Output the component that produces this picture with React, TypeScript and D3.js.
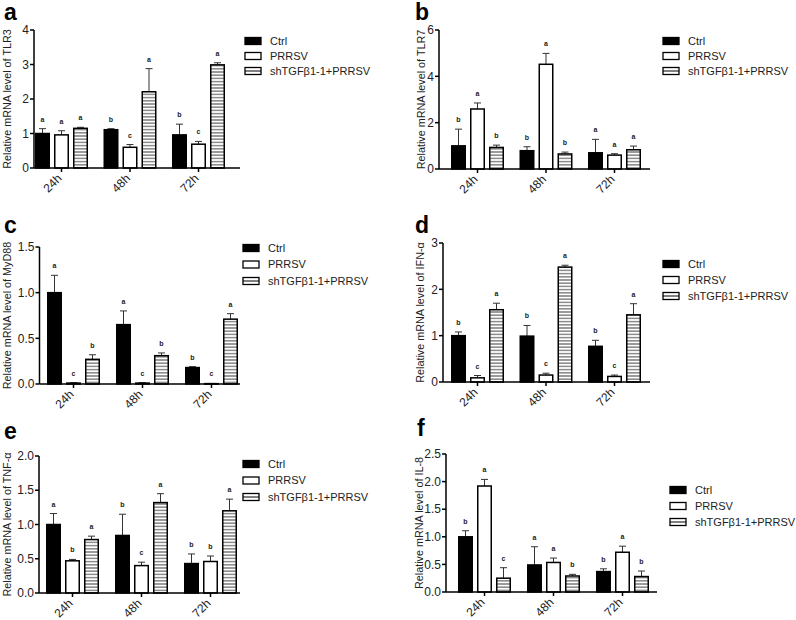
import React from "react";
import * as d3 from "d3";

const groups = ["24h", "48h", "72h"];
const series = ["Ctrl", "PRRSV", "shTGFβ1-1+PRRSV"];

// values per group (rows) x series (cols)
const tlr3Mean = [[1.0, 0.96, 1.15], [1.11, 0.6, 2.21], [0.96, 0.69, 2.99]];
const tlr3Err = [[0.14, 0.12, 0.03], [0.03, 0.08, 0.67], [0.31, 0.08, 0.06]];
const tlr3Sig = [["a", "a", "a"], ["b", "c", "a"], ["b", "c", "a"]];

const tlr7Mean = [[1.0, 2.59, 0.93], [0.79, 4.52, 0.65], [0.7, 0.6, 0.83]];
const tlr7Err = [[0.72, 0.26, 0.1], [0.17, 0.47, 0.08], [0.58, 0.06, 0.16]];
const tlr7Sig = [["b", "a", "b"], ["b", "a", "b"], ["a", "a", "a"]];

const myd88Mean = [[1.0, 0.01, 0.27], [0.65, 0.01, 0.31], [0.18, 0.004, 0.71]];
const myd88Err = [[0.19, 0.005, 0.05], [0.15, 0.005, 0.03], [0.01, 0.002, 0.06]];
const myd88Sig = [["a", "c", "b"], ["a", "c", "b"], ["b", "c", "a"]];

const ifnMean = [[1.0, 0.09, 1.56], [0.99, 0.15, 2.48], [0.77, 0.12, 1.45]];
const ifnErr = [[0.08, 0.05, 0.14], [0.23, 0.04, 0.04], [0.13, 0.03, 0.24]];
const ifnSig = [["b", "c", "a"], ["b", "c", "a"], ["b", "c", "a"]];

const tnfMean = [[1.0, 0.47, 0.78], [0.84, 0.4, 1.32], [0.43, 0.46, 1.2]];
const tnfErr = [[0.16, 0.02, 0.05], [0.31, 0.05, 0.13], [0.14, 0.08, 0.17]];
const tnfSig = [["a", "b", "a"], ["b", "c", "a"], ["b", "b", "a"]];

const il8Mean = [[1.0, 1.92, 0.25], [0.49, 0.535, 0.29], [0.37, 0.72, 0.28]];
const il8Err = [[0.11, 0.12, 0.19], [0.33, 0.08, 0.03], [0.05, 0.11, 0.1]];
const il8Sig = [["b", "a", "c"], ["a", "a", "b"], ["b", "a", "b"]];

const FONT = "'Liberation Sans', Arial, Helvetica, sans-serif";

type PanelSpec = {
  letter: string;
  letterX: number;
  letterY: number;
  label: string;
  labelX: number;
  axisX: number;
  axisEnd: number;
  yTop: number;
  yBot: number;
  yMax: number;
  yStep: number;
  decimals: number;
  c0: number;
  c2: number;
  legX: number;
  legY: number;
  legGap: number;
  mean: number[][];
  err: number[][];
  sig: string[][];
};

const panels: PanelSpec[] = [
  { letter: "a", letterX: 4, letterY: 20, label: "Relative mRNA level of TLR3", labelX: 10.5, axisX: 34, axisEnd: 240, yTop: 30, yBot: 168, yMax: 4, yStep: 1, decimals: 0, c0: 61.5, c2: 198.5, legX: 245, legY: 41, legGap: 15, mean: tlr3Mean, err: tlr3Err, sig: tlr3Sig },
  { letter: "b", letterX: 415, letterY: 20, label: "Relative mRNA level of TLR7", labelX: 424.5, axisX: 439, axisEnd: 650, yTop: 30, yBot: 169, yMax: 6, yStep: 2, decimals: 0, c0: 477.5, c2: 614.5, legX: 663, legY: 41, legGap: 15, mean: tlr7Mean, err: tlr7Err, sig: tlr7Sig },
  { letter: "c", letterX: 4, letterY: 233, label: "Relative mRNA level of MyD88", labelX: 10.5, axisX: 39.5, axisEnd: 240, yTop: 247, yBot: 384, yMax: 1.5, yStep: 0.5, decimals: 1, c0: 73.5, c2: 211.5, legX: 243, legY: 248, legGap: 16.5, mean: myd88Mean, err: myd88Err, sig: myd88Sig },
  { letter: "d", letterX: 415, letterY: 233, label: "Relative mRNA level of IFN-α", labelX: 424, axisX: 443, axisEnd: 650, yTop: 243, yBot: 382, yMax: 3, yStep: 1, decimals: 0, c0: 477.5, c2: 614.5, legX: 663, legY: 264, legGap: 16, mean: ifnMean, err: ifnErr, sig: ifnSig },
  { letter: "e", letterX: 4, letterY: 439, label: "Relative mRNA level of TNF-α", labelX: 11, axisX: 39, axisEnd: 240, yTop: 456, yBot: 593, yMax: 2, yStep: 0.5, decimals: 1, c0: 72.5, c2: 210.5, legX: 243, legY: 464, legGap: 16.5, mean: tnfMean, err: tnfErr, sig: tnfSig },
  { letter: "f", letterX: 417, letterY: 436, label: "Relative mRNA level of IL-8", labelX: 423, axisX: 446, axisEnd: 657, yTop: 454, yBot: 592, yMax: 2.5, yStep: 0.5, decimals: 1, c0: 484.5, c2: 622.5, legX: 670, legY: 490, legGap: 16, mean: il8Mean, err: il8Err, sig: il8Sig },
];

const BAR_W = 13.5;
const BAR_STEP = 19;

function fillFor(si: number) {
  if (si === 0) return "#000";
  if (si === 1) return "#fff";
  return "url(#hstripe)";
}

function Panel({ p }: { p: PanelSpec }) {
  const y = d3.scaleLinear().domain([0, p.yMax]).range([p.yBot, p.yTop]);
  const x = d3.scalePoint<string>().domain(groups).range([p.c0, p.c2]);
  const xs = d3.scalePoint<string>().domain(series).range([-BAR_STEP, BAR_STEP]);
  const ticks = d3.range(0, p.yMax + p.yStep / 2, p.yStep);
  const fmt = d3.format(`.${p.decimals}f`);
  const midY = (p.yTop + p.yBot) / 2;
  return (
    <g>
      <text x={p.letterX} y={p.letterY} fontSize={23} fontWeight="bold" fontFamily={FONT}>{p.letter}</text>
      <text transform={`translate(${p.labelX},${midY}) rotate(-90)`} textAnchor="middle" fontSize={10.8} fontFamily={FONT} fill="#222">{p.label}</text>
      {groups.map((g, gi) =>
        series.map((s, si) => {
          const cx = (x(g) as number) + (xs(s) as number);
          const m = p.mean[gi][si];
          const e = p.err[gi][si];
          const yTopBar = y(m);
          const yCap = y(m + e);
          return (
            <g key={g + s}>
              <line x1={cx} x2={cx} y1={yTopBar} y2={yCap} stroke="#333" strokeWidth={1} />
              <line x1={cx - 3.5} x2={cx + 3.5} y1={yCap} y2={yCap} stroke="#333" strokeWidth={1} />
              <rect x={cx - BAR_W / 2} y={yTopBar} width={BAR_W} height={Math.max(0.5, p.yBot - yTopBar)} fill={fillFor(si)} stroke="#000" strokeWidth={1.5} />
              <text x={cx} y={yCap - 7} textAnchor="middle" fontSize={7} fontWeight="bold" fontFamily={FONT} fill="#222">{p.sig[gi][si]}</text>
            </g>
          );
        })
      )}
      {/* y axis */}
      <line x1={p.axisX} x2={p.axisX} y1={p.yTop} y2={p.yBot} stroke="#000" strokeWidth={1.5} />
      {ticks.map((t) => (
        <g key={t}>
          <line x1={p.axisX - 4} x2={p.axisX} y1={y(t)} y2={y(t)} stroke="#000" strokeWidth={1.5} />
          <text x={p.axisX - 5} y={y(t)} dy="0.35em" textAnchor="end" fontSize={12} fontFamily={FONT} fill="#222">{fmt(t)}</text>
        </g>
      ))}
      {/* x axis */}
      <line x1={p.axisX} x2={p.axisEnd} y1={p.yBot} y2={p.yBot} stroke="#000" strokeWidth={1.5} />
      {groups.map((g) => {
        const gx = x(g) as number;
        return (
          <g key={g}>
            <line x1={gx} x2={gx} y1={p.yBot} y2={p.yBot + 4} stroke="#000" strokeWidth={1.5} />
            <text transform={`translate(${gx - 2},${p.yBot + 8}) rotate(-45)`} textAnchor="end" fontSize={12} fontFamily={FONT} fill="#222" dy="0.35em">{g}</text>
          </g>
        );
      })}
      {/* legend */}
      {series.map((s, si) => {
        const ly = p.legY + si * p.legGap;
        return (
          <g key={s}>
            <rect x={p.legX} y={ly - 3.5} width={16} height={7} fill={si === 2 ? "#fff" : fillFor(si)} stroke="#000" strokeWidth={1.3} />
            {si === 2 && <line x1={p.legX} x2={p.legX + 16} y1={ly} y2={ly} stroke="#000" strokeWidth={1} />}
            <text x={p.legX + 25} y={ly} dy="0.35em" fontSize={11} fontFamily={FONT} fill="#222">{s}</text>
          </g>
        );
      })}
    </g>
  );
}

export default function App() {
  return (
    <div style={{ position: "fixed", left: 0, top: 0 }}>
      <svg width={796} height={620} style={{ display: "block", background: "#fff" }}>
        <defs>
          <pattern id="hstripe" patternUnits="userSpaceOnUse" width={6} height={3.2}>
            <rect width={6} height={3.2} fill="#fff" />
            <line x1={0} x2={6} y1={1.6} y2={1.6} stroke="#333" strokeWidth={0.9} />
          </pattern>
        </defs>
        <rect width={796} height={620} fill="#fff" />
        {panels.map((p) => (
          <Panel key={p.letter} p={p} />
        ))}
      </svg>
    </div>
  );
}
